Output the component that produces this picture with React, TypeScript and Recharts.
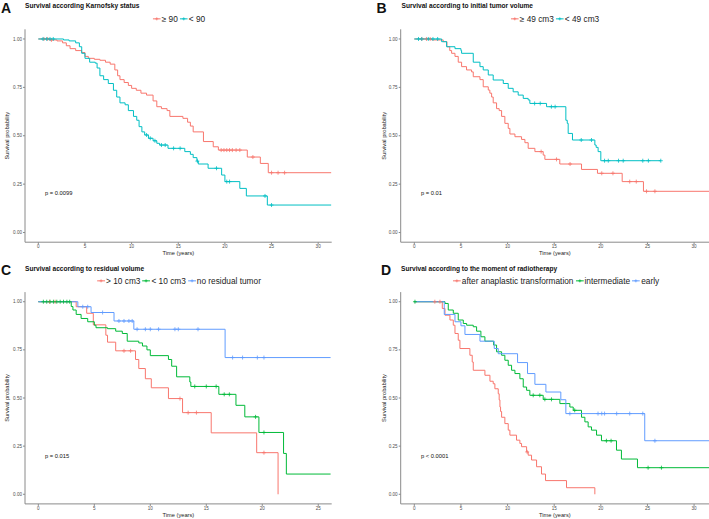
import React from 'react';
import { ComposedChart, Line, Scatter, XAxis, YAxis } from 'recharts';

type Pt = [number, number];

const RED = '#F8766D';
const CYAN = '#00BFC4';
const GREEN = '#00BA38';
const BLUE = '#619CFF';
const FONT = '"Liberation Sans", Arial, Helvetica, sans-serif';

// ---------- Panel A: Karnofsky ----------
const kpsHigh: Pt[] = [[0,1],[1.2,0.995],[2.0,0.99],[2.6,0.98],[3.0,0.965],[3.4,0.95],[4.0,0.94],[4.65,0.93],[5.0,0.91],[5.36,0.90],[6.0,0.895],[6.6,0.89],[7.2,0.88],[7.7,0.87],[8.2,0.84],[8.5,0.81],[8.75,0.79],[9.2,0.775],[9.65,0.76],[10.0,0.745],[10.5,0.735],[11.0,0.72],[11.6,0.71],[12.3,0.68],[12.7,0.65],[13.2,0.64],[13.8,0.63],[14.1,0.60],[15.5,0.59],[16.0,0.57],[16.3,0.55],[16.6,0.52],[17.7,0.47],[18.75,0.443],[19.3,0.426],[22.4,0.39],[23.8,0.357],[24.65,0.309],[31.4,0.309]];
const kpsHighCens = [0.6, 1.0, 1.4, 19.6, 19.9, 20.2, 20.5, 20.8, 21.2, 21.6, 23.0, 25.0, 25.7, 26.4];
const kpsLow: Pt[] = [[0,1],[2.7,0.995],[3.3,0.99],[4.0,0.98],[4.4,0.96],[4.65,0.926],[5.0,0.90],[5.5,0.88],[6.1,0.875],[6.3,0.85],[6.6,0.81],[7.0,0.79],[7.5,0.77],[8.05,0.735],[8.4,0.70],[8.75,0.67],[9.3,0.66],[9.65,0.63],[10.2,0.60],[10.55,0.58],[10.8,0.547],[11.1,0.52],[11.4,0.504],[11.8,0.487],[12.3,0.474],[12.7,0.461],[13.0,0.452],[13.9,0.435],[15.7,0.418],[16.3,0.404],[16.6,0.387],[17.0,0.369],[17.15,0.354],[18.2,0.332],[19.65,0.297],[20.0,0.263],[21.6,0.228],[22.3,0.189],[24.55,0.142],[31.4,0.142]];
const kpsLowCens = [0.5, 0.9, 1.25, 1.6, 11.6, 12.0, 12.5, 13.2, 13.6, 14.5, 15.2, 17.05, 19.1, 20.2, 20.5, 24.3, 25.0];

// ---------- Panel B: initial tumor volume ----------
const volHigh: Pt[] = [[0,1],[1.86,0.995],[3.1,0.986],[3.5,0.96],[3.8,0.94],[4.0,0.926],[4.36,0.91],[4.71,0.88],[5.07,0.857],[5.6,0.84],[6.14,0.83],[6.32,0.805],[7.04,0.79],[7.39,0.753],[7.93,0.736],[8.1,0.72],[8.29,0.70],[8.46,0.67],[8.82,0.64],[9.1,0.63],[9.36,0.60],[9.71,0.564],[10.07,0.538],[10.25,0.509],[10.79,0.495],[11.5,0.481],[11.86,0.464],[12.21,0.435],[12.93,0.418],[13.82,0.40],[14.0,0.378],[15.6,0.354],[17.93,0.326],[19.64,0.306],[22.29,0.263],[24.57,0.213],[31.6,0.213]];
const volHighCens = [0.8, 1.3, 1.7, 13.6, 15.25, 16.7, 20.1, 21.3, 23.1, 23.8, 24.9, 25.8];
const volLow: Pt[] = [[0,1],[2.93,0.986],[3.46,0.96],[4.36,0.95],[5.0,0.94],[5.07,0.926],[6.32,0.88],[7.04,0.857],[7.39,0.84],[7.93,0.814],[8.46,0.788],[9.54,0.77],[10.07,0.745],[10.6,0.727],[11.14,0.71],[11.68,0.693],[12.21,0.685],[12.39,0.667],[14.18,0.65],[16.25,0.58],[16.4,0.564],[16.5,0.512],[16.96,0.478],[19.36,0.452],[19.5,0.44],[19.71,0.418],[20.0,0.371],[26.43,0.371]];
const volLowCens = [0.45, 0.8, 1.5, 2.0, 2.5, 12.9, 13.5, 14.7, 15.1, 17.9, 19.0, 20.4, 20.8, 21.9, 22.4, 24.5, 25.1, 26.43];

// ---------- Panel C: residual volume ----------
const resHigh: Pt[] = [[0,1],[3.38,0.974],[4.32,0.94],[4.91,0.88],[6.03,0.826],[6.18,0.79],[6.91,0.745],[8.68,0.70],[8.97,0.653],[9.56,0.60],[10.09,0.553],[11.62,0.497],[12.88,0.424],[15.44,0.319],[19.5,0.216],[21.41,0]];
const resHighCens = [1.0, 1.5, 7.65, 8.24, 12.65, 13.38, 14.12, 20.15];
const resLow: Pt[] = [[0,1],[2.94,0.975],[3.09,0.957],[3.38,0.934],[3.82,0.913],[4.41,0.896],[5.0,0.878],[5.15,0.865],[6.18,0.86],[6.91,0.847],[7.5,0.835],[7.94,0.795],[8.97,0.786],[9.3,0.77],[9.7,0.75],[10.0,0.72],[11.62,0.70],[11.91,0.665],[12.35,0.61],[13.53,0.583],[13.62,0.56],[16.12,0.519],[17.65,0.462],[18.44,0.402],[19.7,0.321],[21.9,0.212],[22.15,0.105],[26.1,0.105]];
const resLowCens = [0.45, 0.75, 1.05, 1.35, 1.65, 1.95, 2.25, 2.55, 2.8, 13.97, 15.0, 15.88, 16.6, 17.06, 19.4, 20.15];
const resNone: Pt[] = [[0,1],[3.53,0.974],[4.71,0.944],[6.76,0.90],[8.53,0.857],[16.68,0.71],[26.1,0.71]];
const resNoneCens = [3.97, 4.41, 5.74, 7.2, 7.65, 8.09, 8.38, 8.82, 9.56, 10.0, 10.74, 12.2, 12.5, 14.26, 17.35, 18.24, 19.56, 20.15];

// ---------- Panel D: moment of radiotherapy ----------
const rtAfter: Pt[] = [[0,1],[3.0,0.965],[3.29,0.93],[3.82,0.905],[4.18,0.878],[4.36,0.835],[4.71,0.80],[4.89,0.757],[5.96,0.722],[6.21,0.687],[6.32,0.644],[7.57,0.618],[8.11,0.587],[8.46,0.574],[8.64,0.548],[9.0,0.522],[9.1,0.49],[9.18,0.453],[9.25,0.43],[9.36,0.40],[9.71,0.367],[10.07,0.333],[10.25,0.307],[10.96,0.281],[11.32,0.264],[11.5,0.247],[12.04,0.22],[12.21,0.203],[12.57,0.178],[13.11,0.143],[13.64,0.105],[14.07,0.071],[16.32,0.034],[19.36,0]];
const rtAfterCens = [2.2, 2.75, 12.1];
const rtMid: Pt[] = [[0,1],[3.29,0.991],[3.64,0.957],[4.18,0.94],[4.71,0.905],[5.25,0.887],[5.61,0.878],[6.32,0.87],[6.68,0.847],[7.14,0.818],[7.57,0.795],[8.5,0.775],[8.82,0.74],[9.36,0.722],[9.71,0.696],[10.07,0.67],[10.43,0.644],[10.79,0.627],[11.32,0.60],[11.68,0.557],[12.04,0.54],[12.39,0.514],[13.82,0.493],[15.61,0.471],[16.68,0.453],[17.04,0.436],[17.93,0.40],[18.29,0.376],[18.64,0.35],[19.0,0.333],[19.54,0.307],[20.07,0.278],[21.68,0.229],[22.21,0.183],[23.93,0.138],[31.6,0.138]];
const rtMidCens = [0.07, 12.75, 13.46, 14.0, 14.71, 17.2, 20.6, 21.1, 25.07, 26.5];
const rtEarly: Pt[] = [[0,1],[3.21,0.934],[4.36,0.896],[5.0,0.875],[5.43,0.83],[7.04,0.795],[8.57,0.757],[9.0,0.73],[11.07,0.684],[12.14,0.627],[12.93,0.571],[14.11,0.531],[15.71,0.491],[16.25,0.419],[24.71,0.278],[31.6,0.278]];
const rtEarlyCens = [16.68, 19.7, 20.1, 20.4, 21.7, 23.1, 24.5, 25.8];

const yTicks = [0, 0.25, 0.5, 0.75, 1];
const xTicks30 = [0, 5, 10, 15, 20, 25, 30];
const xTicks25 = [0, 5, 10, 15, 20, 25];

function rows(pts: Pt[]) {
  return pts.map(([t, s]) => ({ t, s }));
}
function survAt(pts: Pt[], t: number) {
  let s = 1;
  for (const [tt, ss] of pts) {
    if (tt <= t) s = ss;
    else break;
  }
  return s;
}
function censRows(pts: Pt[], times: number[]) {
  return times.map((t) => ({ t, s: survAt(pts, t) }));
}

const Plus = (props: any) => {
  const { cx, cy, fill } = props;
  if (cx == null || cy == null) return null;
  return (
    <path d={`M${cx - 2},${cy}H${cx + 2}M${cx},${cy - 2}V${cy + 2}`} stroke={fill} strokeWidth={0.8} fill="none" />
  );
};

type Series = { name: string; pts: Pt[]; cens: number[]; color: string };

type PanelProps = {
  left: number;
  top: number;
  height: number;
  marginTop: number;
  marginRight: number;
  yAxisW: number;
  xAxisH: number;
  xDomain: [number, number];
  xTicks: number[];
  series: Series[];
  yLabelOffset: number;
  xLabelOffset: number;
};

function KMPanel(p: PanelProps) {
  const axisColor = '#8a8a8a';
  const tickStyle = { fontSize: 4.6, fill: '#4d4d4d', fontFamily: FONT };
  return (
    <div style={{ position: 'absolute', left: p.left, top: p.top }}>
      <ComposedChart
        width={354}
        height={p.height}
        margin={{ top: p.marginTop, right: p.marginRight, bottom: 0, left: 0 }}
      >
        <XAxis
          type="number"
          dataKey="t"
          domain={p.xDomain}
          ticks={p.xTicks}
          interval={0}
          allowDataOverflow
          height={p.xAxisH}
          tickSize={2}
          tickMargin={1}
          stroke={axisColor}
          tick={tickStyle}
          label={{ value: 'Time (years)', position: 'insideBottom', offset: p.xLabelOffset, fontSize: 5.7, fill: '#222', fontFamily: FONT }}
        />
        <YAxis
          type="number"
          dataKey="s"
          domain={[-0.05, 1.05]}
          ticks={yTicks}
          interval={0}
          allowDataOverflow
          width={p.yAxisW}
          tickSize={2}
          tickMargin={1}
          stroke={axisColor}
          tick={tickStyle}
          tickFormatter={(v: number) => v.toFixed(2)}
          label={{ value: 'Survival probability', angle: -90, position: 'insideLeft', offset: p.yLabelOffset, fontSize: 5.7, fill: '#222', fontFamily: FONT, style: { textAnchor: 'middle' } }}
        />
        {p.series.map((s) => (
          <Line
            key={'l' + s.name}
            data={rows(s.pts)}
            dataKey="s"
            type="stepAfter"
            stroke={s.color}
            strokeWidth={1}
            dot={false}
            activeDot={false}
            isAnimationActive={false}
          />
        ))}
        {p.series.map((s) => (
          <Scatter
            key={'c' + s.name}
            data={censRows(s.pts, s.cens)}
            dataKey="s"
            fill={s.color}
            shape={<Plus />}
            isAnimationActive={false}
          />
        ))}
      </ComposedChart>
    </div>
  );
}

function Legend({ cx, cy, items }: { cx: number; cy: number; items: { label: string; color: string }[] }) {
  return (
    <div
      style={{
        position: 'absolute',
        left: cx,
        top: cy,
        transform: 'translate(-50%, -50%)',
        display: 'flex',
        alignItems: 'center',
        whiteSpace: 'nowrap',
        fontFamily: FONT,
        fontSize: 8.3,
        lineHeight: 1,
        color: '#222',
      }}
    >
      {items.map((it, i) => (
        <div key={i} style={{ display: 'flex', alignItems: 'center', marginLeft: i === 0 ? 0 : 2 }}>
          <svg width={8} height={6} style={{ display: 'block', marginRight: 1 }}>
            <line x1={0} y1={3} x2={8} y2={3} stroke={it.color} strokeWidth={1} />
            <path d="M2.5,3H5.5M4,1.5V4.5" stroke={it.color} strokeWidth={0.8} />
          </svg>
          <span>{it.label}</span>
        </div>
      ))}
    </div>
  );
}

function Txt({ x, y, size, bold, children }: { x: number; y: number; size: number; bold?: boolean; children: React.ReactNode }) {
  return (
    <div
      style={{
        position: 'absolute',
        left: x,
        top: y,
        transform: 'translateY(-50%)',
        fontFamily: FONT,
        fontSize: size,
        fontWeight: bold ? 700 : 400,
        lineHeight: 1,
        whiteSpace: 'nowrap',
        color: '#111',
      }}
    >
      {children}
    </div>
  );
}

export default function App() {
  return (
    <div style={{ position: 'absolute', left: 0, top: 0, width: 709, height: 519, background: '#fff', overflow: 'hidden' }}>
      <KMPanel
        left={0}
        top={0}
        height={258}
        marginTop={29.3}
        marginRight={22.3}
        yAxisW={25}
        xAxisH={15.8}
        xDomain={[-1.43, 31.45]}
        xTicks={xTicks30}
        yLabelOffset={6.7}
        xLabelOffset={3.3}
        series={[
          { name: 'hi', pts: kpsHigh, cens: kpsHighCens, color: RED },
          { name: 'lo', pts: kpsLow, cens: kpsLowCens, color: CYAN },
        ]}
      />
      <KMPanel
        left={355}
        top={0}
        height={258}
        marginTop={29.3}
        marginRight={0}
        yAxisW={45.7}
        xAxisH={15.8}
        xDomain={[-1.46, 31.6]}
        xTicks={xTicks30}
        yLabelOffset={29}
        xLabelOffset={3.3}
        series={[
          { name: 'hi', pts: volHigh, cens: volHighCens, color: RED },
          { name: 'lo', pts: volLow, cens: volLowCens, color: CYAN },
        ]}
      />
      <KMPanel
        left={0}
        top={258}
        height={261}
        marginTop={34.1}
        marginRight={22.3}
        yAxisW={25}
        xAxisH={15.1}
        xDomain={[-1.19, 26.2]}
        xTicks={xTicks25}
        yLabelOffset={7}
        xLabelOffset={2}
        series={[
          { name: 'hi', pts: resHigh, cens: resHighCens, color: RED },
          { name: 'lo', pts: resLow, cens: resLowCens, color: GREEN },
          { name: 'no', pts: resNone, cens: resNoneCens, color: BLUE },
        ]}
      />
      <KMPanel
        left={355}
        top={258}
        height={261}
        marginTop={34.1}
        marginRight={0}
        yAxisW={45.7}
        xAxisH={15.1}
        xDomain={[-1.46, 31.6]}
        xTicks={xTicks30}
        yLabelOffset={29}
        xLabelOffset={2}
        series={[
          { name: 'after', pts: rtAfter, cens: rtAfterCens, color: RED },
          { name: 'mid', pts: rtMid, cens: rtMidCens, color: GREEN },
          { name: 'early', pts: rtEarly, cens: rtEarlyCens, color: BLUE },
        ]}
      />

      <Txt x={1} y={7.7} size={14} bold>A</Txt>
      <Txt x={25} y={6.3} size={6.6} bold>Survival according Karnofsky status</Txt>
      <Legend cx={179} cy={18.7} items={[{ label: '≥ 90', color: RED }, { label: '< 90', color: CYAN }]} />
      <Txt x={45} y={194} size={5.75}>p = 0.0099</Txt>

      <Txt x={376.5} y={7.7} size={14} bold>B</Txt>
      <Txt x={401.5} y={6.3} size={6.6} bold>Survival according to initial tumor volume</Txt>
      <Legend cx={555} cy={18.7} items={[{ label: '≥ 49 cm3', color: RED }, { label: '< 49 cm3', color: CYAN }]} />
      <Txt x={421} y={194} size={5.75}>p = 0.01</Txt>

      <Txt x={1} y={269.7} size={14} bold>C</Txt>
      <Txt x={25} y={269.3} size={6.6} bold>Survival according to residual volume</Txt>
      <Legend cx={179} cy={280.5} items={[{ label: '> 10 cm3', color: RED }, { label: '< 10 cm3', color: GREEN }, { label: 'no residual tumor', color: BLUE }]} />
      <Txt x={45} y={456.7} size={5.75}>p = 0.015</Txt>

      <Txt x={381} y={269.7} size={14} bold>D</Txt>
      <Txt x={401} y={269.3} size={6.6} bold>Survival according to the moment of radiotherapy</Txt>
      <Legend cx={556} cy={280.5} items={[{ label: 'after anaplastic transformation', color: RED }, { label: 'intermediate', color: GREEN }, { label: 'early', color: BLUE }]} />
      <Txt x={421} y={456.7} size={5.75}>p &lt; 0.0001</Txt>
    </div>
  );
}
